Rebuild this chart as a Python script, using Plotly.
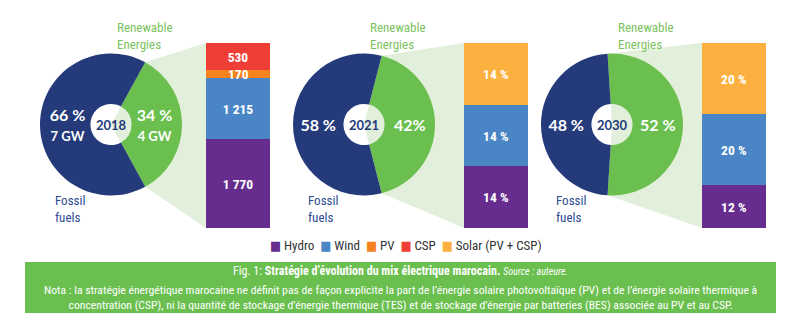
import math
import plotly.graph_objects as go

# ---------------- data ----------------
years = ["2018", "2021", "2030"]
renewable_share = [34, 42, 52]
fossil_share = [66, 58, 48]
renewable_text = ["<b>34 %</b><br><b><span style='font-size:13px'>4 GW</span></b>", "<b>42%</b>", "<b>52 %</b>"]
fossil_text = ["<b>66 %</b><br><b><span style='font-size:13px'>7 GW</span></b>", "<b>58 %</b>", "<b>48 %</b>"]

mix2018_names = ["Hydro", "Wind", "PV", "CSP"]
mix2018_values = [1770, 1215, 170, 530]
mix2021_names = ["Hydro", "Wind", "Solar (PV + CSP)"]
mix2021_values = [14, 14, 14]
mix2030_names = ["Hydro", "Wind", "Solar (PV + CSP)"]
mix2030_values = [12, 20, 20]

legend_names = ["Hydro", "Wind", "PV", "CSP", "Solar (PV + CSP)"]

# ---------------- styles ----------------
W, H = 800, 326
NAVY = "#243a7b"
GREEN = "#6abf4f"
WEDGE = "#e2efda"
REN_TXT = "#7cc35f"
FOS_TXT = "#2d4a92"
colors = {"Hydro": "#662d8f", "Wind": "#4a86c6", "PV": "#f6831f",
          "CSP": "#ee3e36", "Solar (PV + CSP)": "#fbb040"}
COND = "Roboto Condensed, Liberation Sans Narrow, DejaVu Sans Condensed, Roboto"
GEO = "Lato, Open Sans, sans-serif"
BAR_FONT = dict(family=COND, size=13.5, color="white", weight="bold")

pie_cx = [111, 364, 612]
pie_cy = 124.5
pie_r = 71
hole = 0.29
bar_x0 = [206, 464, 702]
bar_w = 64
bar_top, bar_bot = 43, 228

def px(x):
    return x / W

def py(y):
    return 1 - y / H

fig = go.Figure()
shapes = []
annotations = []

# connecting wedges (drawn below the pies)
for i in range(3):
    frac = renewable_share[i] / 100
    half = math.pi * frac
    cx, cy = pie_cx[i], pie_cy
    tx, ty = cx + pie_r * math.cos(half), cy - pie_r * math.sin(half)
    bx, by = cx + pie_r * math.cos(half), cy + pie_r * math.sin(half)
    path = (f"M {px(cx)},{py(cy)} L {px(tx)},{py(ty)} L {px(bar_x0[i])},{py(bar_top)} "
            f"L {px(bar_x0[i])},{py(bar_bot)} L {px(bx)},{py(by)} Z")
    shapes.append(dict(type="path", path=path, xref="paper", yref="paper",
                       fillcolor=WEDGE, line=dict(width=0), layer="below"))

# pies
for i in range(3):
    frac = renewable_share[i] / 100
    cx = pie_cx[i]
    fig.add_trace(go.Pie(
        values=[renewable_share[i], fossil_share[i]],
        labels=["Renewable Energies", "Fossil fuels"],
        text=[renewable_text[i], fossil_text[i]],
        textinfo="text", textposition="inside", insidetextorientation="horizontal",
        textfont=dict(family=GEO, size=16, color="white", weight="bold"),
        marker=dict(colors=[GREEN, NAVY], line=dict(width=0)),
        hole=hole, sort=False, direction="clockwise",
        rotation=90 - frac * 180,
        domain=dict(x=[px(cx - pie_r), px(cx + pie_r)],
                    y=[py(pie_cy + pie_r), py(pie_cy - pie_r)]),
        title=dict(text=f"<b>{years[i]}</b>", position="middle center",
                   font=dict(family=GEO, size=13, color=NAVY)),
        showlegend=False, hoverinfo="skip",
    ))
    annotations.append(dict(x=px(cx + 4), y=py(18), xref="paper", yref="paper",
                            xanchor="left", yanchor="top", align="left",
                            text="Renewable<br>Energies", showarrow=False,
                            font=dict(family=COND, size=13, color=REN_TXT)))
    annotations.append(dict(x=px(cx - 58), y=py(191), xref="paper", yref="paper",
                            xanchor="left", yanchor="top", align="left",
                            text="Fossil<br>fuels", showarrow=False,
                            font=dict(family=COND, size=13, color=FOS_TXT)))

# stacked bars
def fmt(v):
    return f"{v:,}".replace(",", " ")

bar_sets = [
    (mix2018_names, mix2018_values, [fmt(v) for v in mix2018_values]),
    (mix2021_names, mix2021_values, [f"{v} %" for v in mix2021_values]),
    (mix2030_names, mix2030_values, [f"{v} %" for v in mix2030_values]),
]
layout_axes = {}
for i, (names, vals, texts) in enumerate(bar_sets):
    sfx = "" if i == 0 else str(i + 1)
    base = 0
    for n, v, t in zip(names, vals, texts):
        small = v / sum(vals) < 0.08
        fig.add_trace(go.Bar(
            x=[years[i]], y=[v], name=n, text=[t],
            textposition="none" if small else "inside",
            insidetextanchor="middle", textangle=0,
            textfont=BAR_FONT,
            marker=dict(color=colors[n], line=dict(width=0)),
            width=1, showlegend=False, hoverinfo="skip",
            xaxis="x" + sfx, yaxis="y" + sfx,
        ))
        if small:
            # label too tall for its thin segment: drawn over the stack, centred on it
            # (x = category index 0 of this bar's axis)
            annotations.append(dict(x=0, y=base + v / 2, xref="x" + sfx, yref="y" + sfx,
                                    text=t, showarrow=False, font=BAR_FONT,
                                    xanchor="center", yanchor="middle"))
        base += v
    layout_axes["xaxis" + sfx] = dict(domain=[px(bar_x0[i]), px(bar_x0[i] + bar_w)],
                                     type="category", range=[-0.5, 0.5], visible=False,
                                     anchor="y" + sfx, fixedrange=True)
    layout_axes["yaxis" + sfx] = dict(domain=[py(bar_bot), py(bar_top)],
                                     range=[0, sum(vals)], visible=False,
                                     anchor="x" + sfx, fixedrange=True)

# legend row (compact, as in the reference)
leg = "&nbsp;&nbsp;".join(
    f"<span style='color:{colors[n]}'>■</span> {n}" for n in legend_names)
annotations.append(dict(x=px(406), y=py(245), xref="paper", yref="paper",
                        xanchor="center", yanchor="middle", text=leg, showarrow=False,
                        font=dict(family=COND, size=13, color="#333333")))

# caption box
shapes.append(dict(type="rect", xref="paper", yref="paper",
                   x0=px(25), x1=px(776), y0=py(313), y1=py(262),
                   fillcolor=GREEN, line=dict(width=0), layer="below"))
annotations.append(dict(
    x=px(400), y=py(271), xref="paper", yref="paper", xanchor="center", yanchor="middle",
    showarrow=False,
    text=("Fig. 1: <b>Stratégie d’évolution du mix électrique marocain.</b> "
          "<i><span style='font-size:10px'>Source : auteure.</span></i>"),
    font=dict(family=COND, size=12, color="white")))
annotations.append(dict(
    x=px(400), y=py(297), xref="paper", yref="paper", xanchor="center", yanchor="middle",
    showarrow=False, align="center",
    text=("Nota : la stratégie énergétique marocaine ne définit pas de façon explicite la part "
          "de l’énergie solaire photovoltaïque (PV) et de l’énergie solaire thermique à<br>"
          "concentration (CSP), ni la quantité de stockage d’énergie thermique (TES) et de "
          "stockage d’énergie par batteries (BES) associée au PV et au CSP."),
    font=dict(family=COND, size=11.7, color="white")))

fig.update_layout(
    width=W, height=H, margin=dict(l=0, r=0, t=0, b=0),
    paper_bgcolor="white", plot_bgcolor="rgba(0,0,0,0)",
    barmode="stack", bargap=0,
    shapes=shapes, annotations=annotations,
    uniformtext=dict(minsize=13.5, mode="show"),
    **layout_axes,
)
fig.write_html("out.html")
